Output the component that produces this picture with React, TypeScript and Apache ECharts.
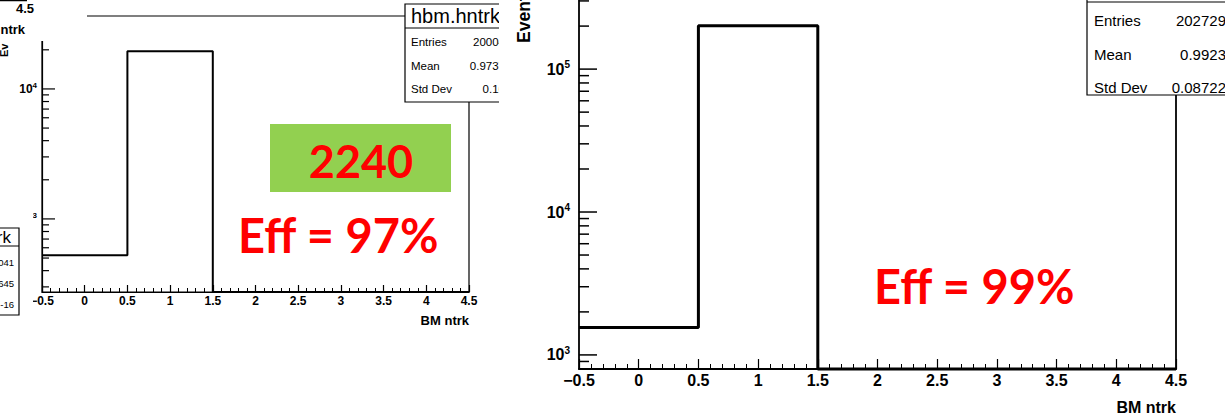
import React, { useEffect, useRef } from 'react';
import * as echarts from 'echarts';

// ---- data ----
const binEdges = [-0.5, 0.5, 1.5, 2.5, 3.5, 4.5];
const leftCounts = [526, 19478, 0, 0, 0];
const rightCounts = [1555, 201174, 0, 0, 0];
const leftYRange = [274, 36400];
const rightYRange = [797, 304500];
const leftMajorTicks = [1000, 10000];
const leftMinorTicks = [300, 400, 500, 600, 700, 800, 900, 2000, 3000, 4000, 5000, 6000, 7000, 8000, 9000, 20000, 30000];
const rightMajorTicks = [1000, 10000, 100000];
const rightMinorTicks = [800, 900, 2000, 3000, 4000, 5000, 6000, 7000, 8000, 9000, 20000, 30000, 40000, 50000, 60000, 70000, 80000, 90000, 200000, 300000];
const leftStatsTitle = 'hbm.hntrk';
const leftStatsLabels = ['Entries', 'Mean', 'Std Dev'];
const leftStatsValues = ['20004', '0.9737', '0.16'];
const rightStatsLabels = ['Entries', 'Mean', 'Std Dev'];
const rightStatsValues = ['202729', '0.9923', '0.08722'];
const fragmentTitle = 'rk';
const fragmentValues = ['041', '645', '-16'];
const greenLabel = '2240';
const leftEff = 'Eff = 97%';
const rightEff = 'Eff = 99%';
const xTitle = 'BM ntrk';
const yTitle = 'Events';

const FONT = '"Liberation Sans", Arial, Helvetica, sans-serif';
const RED_FONT = 'Lato, "Open Sans", sans-serif';

function stepPoints(counts: number[], floor: number) {
  const pts: number[][] = [];
  counts.forEach((c, i) => {
    const v = Math.max(c, floor);
    pts.push([binEdges[i], v]);
    pts.push([binEdges[i + 1], v]);
  });
  return pts;
}

function fmtX(v: number) {
  return v < 0 ? '\u2212' + Math.abs(v) : String(v);
}

function fmtLog(v: number) {
  const e = Math.log10(v);
  const r = Math.round(e);
  if (Math.abs(e - r) < 1e-6) return `{b|10}{s|${r}}`;
  return '';
}

function tickSeries(axisIndex: number, ticks: number[], len: number, width: number) {
  return {
    type: 'custom',
    xAxisIndex: axisIndex,
    yAxisIndex: axisIndex,
    clip: false,
    silent: true,
    z: 5,
    data: ticks.map((t) => [binEdges[0], t]),
    renderItem: (_p: any, api: any) => {
      const p = api.coord([api.value(0), api.value(1)]);
      return {
        type: 'line',
        shape: { x1: p[0], y1: p[1], x2: p[0] + len, y2: p[1] },
        style: { stroke: '#000', lineWidth: width },
      };
    },
  };
}

export default function App() {
  const ref = useRef<HTMLDivElement>(null);
  useEffect(() => {
    if (!ref.current) return;
    const chart = echarts.init(ref.current, undefined, { renderer: 'svg' });

    const xAxisCommon = (idx: number, fs: number, majorLen: number, minorLen: number, lw: number, nameFs: number, namePad: number) => ({
      gridIndex: idx,
      type: 'value',
      min: -0.5,
      max: 4.5,
      interval: 0.5,
      axisLine: { onZero: false, lineStyle: { color: '#000', width: lw } },
      axisTick: { inside: true, length: majorLen, lineStyle: { color: '#000', width: 1.2 } },
      minorTick: { show: true, splitNumber: 5, length: minorLen, lineStyle: { color: '#000', width: 1 } },
      splitLine: { show: false },
      minorSplitLine: { show: false },
      axisLabel: { color: '#000', fontSize: fs, fontWeight: 'bold', fontFamily: FONT, margin: 3, formatter: fmtX },
      name: xTitle,
      nameLocation: 'end',
      nameGap: 0,
      nameTextStyle: { color: '#000', fontSize: nameFs, fontWeight: 'bold', fontFamily: FONT, align: 'right', verticalAlign: 'top', padding: [namePad, 0, 0, 0] },
    });

    const yAxisCommon = (idx: number, range: number[], fs: number, sfs: number, lw: number, margin: number) => ({
      gridIndex: idx,
      type: 'log',
      logBase: 10,
      min: range[0],
      max: range[1],
      axisLine: { onZero: false, lineStyle: { color: '#000', width: lw } },
      axisTick: { show: false },
      splitLine: { show: false },
      minorTick: { show: false },
      axisLabel: {
        color: '#000',
        margin,
        formatter: fmtLog,
        rich: {
          b: { fontSize: fs, fontWeight: 'bold', fontFamily: FONT, color: '#000' },
          s: { fontSize: sfs, fontWeight: 'bold', fontFamily: FONT, color: '#000', padding: [0, 0, Math.round(fs * 0.55), 0] },
        },
      },
    });

    const lineSeries = (idx: number, counts: number[], floor: number, w: number) => ({
      type: 'line',
      xAxisIndex: idx,
      yAxisIndex: idx,
      data: stepPoints(counts, floor),
      showSymbol: false,
      symbol: 'none',
      clip: false,
      lineStyle: { color: '#000', width: w },
      z: 6,
    });

    const txt = (text: string, x: number, y: number, style: any, extra: any = {}) => ({
      type: 'text',
      x,
      y,
      z: 100,
      ...extra,
      style: { text, fill: '#000', fontFamily: FONT, ...style },
    });

    const graphics: any[] = [];
    // covering patches from the collage
    graphics.push({ type: 'rect', z: 90, shape: { x: 0, y: 0, width: 87, height: 41 }, style: { fill: '#fff' } });
    graphics.push({ type: 'rect', z: 90, shape: { x: 0, y: 120, width: 33, height: 210 }, style: { fill: '#fff' } });
    // top-left fragment
    graphics.push({ type: 'line', z: 100, shape: { x1: 0, y1: 0.5, x2: 27, y2: 0.5 }, style: { stroke: '#000', lineWidth: 1.5 } });
    graphics.push(txt('4.5', 34, 8, { fontSize: 13, fontWeight: 'bold', align: 'right', verticalAlign: 'middle' }));
    graphics.push(txt('ntrk', 25, 29, { fontSize: 13, fontWeight: 'bold', align: 'right', verticalAlign: 'middle' }));
    graphics.push(txt('Ev', 4, 57, { fontSize: 11, fontWeight: 'bold', align: 'left', verticalAlign: 'middle' }, { rotation: Math.PI / 2 }));
    // bottom-left fragment box
    graphics.push({ type: 'rect', z: 95, shape: { x: -2, y: 228, width: 21, height: 87 }, style: { fill: '#fff', stroke: '#000', lineWidth: 1.2 } });
    graphics.push({ type: 'line', z: 96, shape: { x1: -2, y1: 246, x2: 19, y2: 246 }, style: { stroke: '#000', lineWidth: 1 } });
    graphics.push(txt(fragmentTitle, 11, 237, { fontSize: 17, align: 'right', verticalAlign: 'middle' }));
    fragmentValues.forEach((v, i) => {
      graphics.push(txt(v, 14, 262 + i * 21, { fontSize: 9.5, align: 'right', verticalAlign: 'middle' }));
    });
    // left stats box
    graphics.push({ type: 'rect', z: 95, shape: { x: 405, y: 4, width: 100, height: 98 }, style: { fill: '#fff', stroke: '#000', lineWidth: 1.2 } });
    graphics.push({ type: 'line', z: 96, shape: { x1: 405, y1: 28, x2: 505, y2: 28 }, style: { stroke: '#000', lineWidth: 1 } });
    graphics.push(txt(leftStatsTitle, 411, 16, { fontSize: 20, align: 'left', verticalAlign: 'middle' }));
    leftStatsLabels.forEach((l, i) => {
      graphics.push(txt(l, 411, 42 + i * 23.5, { fontSize: 11.5, align: 'left', verticalAlign: 'middle' }));
      graphics.push(txt(leftStatsValues[i], 505, 42 + i * 23.5, { fontSize: 11.5, align: 'right', verticalAlign: 'middle' }));
    });
    graphics.push({ type: 'rect', z: 110, shape: { x: 499, y: 0, width: 9, height: 110 }, style: { fill: '#fff' } });
    // green box + red texts
    graphics.push({ type: 'rect', z: 100, shape: { x: 270, y: 124, width: 181, height: 68 }, style: { fill: '#92d050' } });
    graphics.push(txt(greenLabel, 361, 161, { fontSize: 45, fontWeight: 'bold', fontFamily: RED_FONT, fill: '#ff0000', align: 'center', verticalAlign: 'middle' }, { z: 101 }));
    graphics.push(txt(leftEff, 238, 235, { fontSize: 47, fontWeight: 'bold', fontFamily: RED_FONT, fill: '#ff0000', align: 'left', verticalAlign: 'middle' }));
    graphics.push(txt(rightEff, 874, 286, { fontSize: 47, fontWeight: 'bold', fontFamily: RED_FONT, fill: '#ff0000', align: 'left', verticalAlign: 'middle' }));
    // right y title
    graphics.push(txt(yTitle, 524, 43, { fontSize: 17.5, fontWeight: 'bold', align: 'left', verticalAlign: 'middle' }, { rotation: Math.PI / 2 }));
    // right stats box
    graphics.push({ type: 'rect', z: 95, shape: { x: 1087, y: -10, width: 150, height: 105 }, style: { fill: '#fff', stroke: '#000', lineWidth: 1.2 } });
    graphics.push({ type: 'line', z: 96, shape: { x1: 1087, y1: 2, x2: 1237, y2: 2 }, style: { stroke: '#000', lineWidth: 1.2 } });
    rightStatsLabels.forEach((l, i) => {
      graphics.push(txt(l, 1094, 20.5 + i * 33.5, { fontSize: 15, align: 'left', verticalAlign: 'middle' }));
      graphics.push(txt(rightStatsValues[i], 1226, 20.5 + i * 33.5, { fontSize: 15, align: 'right', verticalAlign: 'middle' }));
    });

    const rightFrame = {
      gridIndex: 1,
      type: 'log',
      logBase: 10,
      min: rightYRange[0],
      max: rightYRange[1],
      position: 'right',
      axisLine: { show: true, onZero: false, lineStyle: { color: '#000', width: 1.8 } },
      axisTick: { show: false },
      axisLabel: { show: false },
      splitLine: { show: false },
    };

    chart.setOption({
      animation: false,
      backgroundColor: '#fff',
      grid: [
        { left: 42, right: 1225 - 469, top: 16, bottom: 415 - 292, show: true, borderColor: '#000', borderWidth: 1.2, backgroundColor: 'transparent' },
        { left: 579, right: 1225 - 1176, top: 0, bottom: 415 - 370, show: false },
      ],
      xAxis: [xAxisCommon(0, 12, 7, 4, 1.2, 13, 22), xAxisCommon(1, 16, 10, 5, 1.8, 16, 30)],
      yAxis: [yAxisCommon(0, leftYRange, 12, 8, 1.2, 5), yAxisCommon(1, rightYRange, 16, 10, 1.8, 9), rightFrame],
      series: [
        lineSeries(0, leftCounts, leftYRange[0], 2),
        lineSeries(1, rightCounts, rightYRange[0], 3),
        tickSeries(0, leftMajorTicks, 13, 1.2),
        tickSeries(0, leftMinorTicks, 7, 1.2),
        tickSeries(1, rightMajorTicks, 18, 1.5),
        tickSeries(1, rightMinorTicks, 10, 1.5),
      ],
      graphic: graphics,
    });
    return () => chart.dispose();
  }, []);
  return <div ref={ref} style={{ position: 'fixed', left: 0, top: 0, width: 1225, height: 415 }} />;
}
